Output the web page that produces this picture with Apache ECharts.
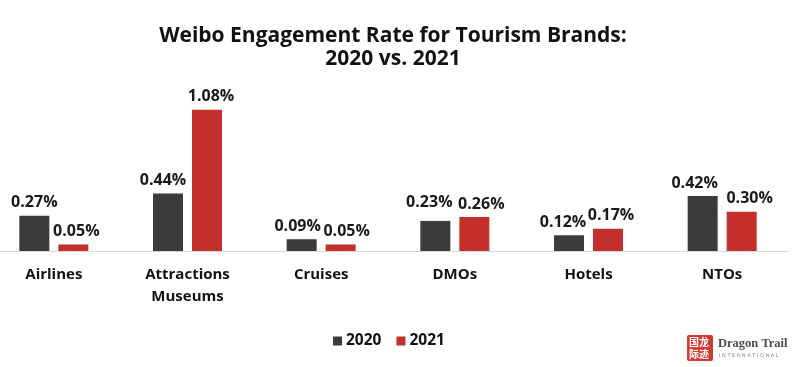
<!DOCTYPE html>
<html><head><meta charset="utf-8">
<script src="https://cdn.jsdelivr.net/npm/echarts@6/dist/echarts.min.js"></script>
<style>html,body{margin:0;padding:0;background:#fff;overflow:hidden;width:800px;height:367px}#c{width:826px;height:367px;margin-left:-13px}</style>
</head><body><div id="c"></div>
<script>
var categories = ["Airlines", "Attractions\nMuseums", "Cruises", "DMOs", "Hotels", "NTOs"];
var values2020 = [0.27, 0.44, 0.09, 0.23, 0.12, 0.42];
var values2021 = [0.05, 1.08, 0.05, 0.26, 0.17, 0.30];
var seriesNames = ["2020", "2021"];
// label nudges (style only)
var shift2020 = [[0,0],[-5,0],[-4,0],[-6,-5],[-6,0],[-8,0]];
var shift2021 = [[3,0],[4,0],[6,0],[7,0],[3,0],[8,0]];
var FONT = "'Open Sans', 'DejaVu Sans', sans-serif";
var OX = 13;
var chart = echarts.init(document.getElementById('c'));
function lblFmt(p){return p.value.toFixed(2)+'%';}
function mkData(vals, shifts){
  return vals.map(function(v,i){return {value:v, label:{offset:shifts[i]}};});
}
function lbl(){return {show:true, position:'top', distance:5, formatter:lblFmt, color:'#1a1a1a', fontSize:16, fontWeight:'bold', fontFamily:FONT};}
chart.setOption({
  animation:false,
  title:{text:'Weibo Engagement Rate for Tourism Brands:\n2020 vs. 2021', left:388+OX, textAlign:'center', top:20, textStyle:{fontSize:21, fontWeight:'bold', color:'#111', fontFamily:FONT, lineHeight:23}},
  legend:{data:seriesNames, bottom:13, left:328+OX, itemWidth:9, itemHeight:9, itemGap:15, icon:'rect', textStyle:{fontSize:15.5, fontWeight:'bold', color:'#111', fontFamily:FONT, padding:[0,0,0,-1]}},
  grid:{left:0, right:24, top:94, bottom:116, containLabel:false},
  xAxis:{type:'category', data:categories, axisLine:{lineStyle:{color:'#d9d9d9', width:1}}, axisTick:{show:false}, axisLabel:{color:'#111', fontSize:15, fontWeight:'bold', fontFamily:FONT, margin:13, lineHeight:22, interval:0}},
  yAxis:{type:'value', min:0, max:1.2, show:false, splitLine:{show:false}},
  series:[
    {name:seriesNames[0], type:'bar', data:mkData(values2020, shift2020), barWidth:30, barGap:'30%', itemStyle:{color:'#3b3b3d'}, label:lbl()},
    {name:seriesNames[1], type:'bar', data:mkData(values2021, shift2021), barWidth:30, itemStyle:{color:'#c3302b'}, label:lbl()}
  ],
  graphic:[
    {type:'rect', left:687+OX, top:335, shape:{width:26, height:26, r:2}, style:{fill:'#d03a33'}},
    {type:'text', left:689+OX, top:336, style:{text:'国龙\n际迹', fill:'#fff', font:'bold 10px "Noto Sans CJK SC"', lineHeight:12}},
    {type:'text', left:718+OX, top:337, style:{text:'Dragon Trail', fill:'#4a4a4a', font:'bold 12.5px "Liberation Serif", serif'}},
    {type:'text', left:719+OX, top:353, style:{text:'I N T E R N A T I O N A L', fill:'#888', font:'5px "DejaVu Sans", sans-serif'}}
  ]
});
</script></body></html>
